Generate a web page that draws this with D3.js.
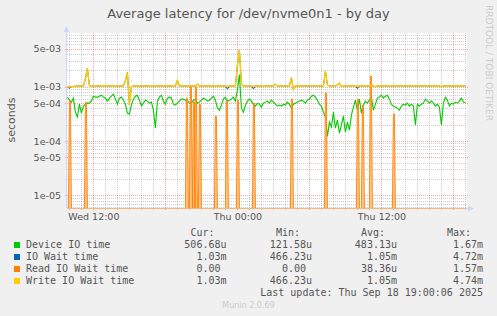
<!DOCTYPE html>
<html>
<head>
<meta charset="utf-8">
<script src="https://cdn.jsdelivr.net/npm/d3@7"></script>
<style>
  body { margin: 0; background: #f0f0f0; }
  svg { display: block; }
  text { font-family: "DejaVu Sans", sans-serif; fill: #555; }
  .mono { font-family: "DejaVu Sans Mono", monospace; white-space: pre; }
</style>
</head>
<body>
<svg id="chart" width="497" height="316"></svg>
<script>
/* ---------------------------------------------------
   Data (10 minute samples, Wed 09:50 -> Thu 19:00, microseconds)
--------------------------------------------------- */

const deviceIO = [
  642, 565, 520, 615, 340, 276, 477, 326, 439, 477,
  498, 498, 542, 669, 642, 642, 669, 698, 642, 615,
  542, 615, 669, 729, 590, 477, 615, 642, 565, 477,
  326, 313, 458, 590, 669, 698, 565, 439, 498, 565,
  542, 498, 520, 370, 173, 542, 642, 698, 542, 477,
  615, 642, 615, 477, 458, 498, 542, 590, 590, 565,
  542, 498, 498, 565, 590, 498, 520, 565, 615, 590,
  542, 565, 615, 669, 565, 403, 370, 458, 590, 642,
  542, 565, 590, 642, 542, 863, 1670, 403, 340, 458,
  542, 590, 542, 477, 439, 498, 477, 421, 498, 520,
  542, 498, 565, 520, 477, 439, 458, 439, 477, 458,
  520, 477, 403, 477, 498, 520, 542, 565, 542, 498,
  565, 590, 669, 698, 642, 565, 477, 439, 340, 276,
  122, 223, 181, 340, 173, 243, 140, 197, 288, 146,
  223, 159, 300, 421, 565, 370, 590, 326, 458, 542,
  498, 565, 642, 370, 477, 615, 642, 698, 615, 669,
  698, 590, 477, 439, 421, 403, 370, 439, 477, 458,
  498, 439, 477, 439, 197, 477, 439, 477, 498, 590,
  542, 498, 542, 498, 439, 477, 421, 197, 498, 642,
  565, 439, 498, 477, 520, 498, 542, 615, 520, 507
];

const ioWait = [
  990, 930, 1000, 1010, 1020, 1030, 1030, 1030, 1030, 1400,
  2200, 1050, 1030, 1030, 1020, 1030, 1030, 1030, 1040, 1030,
  1030, 1030, 1030, 1030, 1020, 1030, 1030, 1030, 1030, 1300,
  1820, 466, 1000, 1030, 1030, 1030, 1030, 1030, 1030, 1030,
  1030, 1030, 1020, 1030, 1030, 1030, 1030, 1030, 1030, 1030,
  1030, 1030, 1030, 1030, 1030, 1320, 1030, 1030, 1030, 1030,
  1030, 1030, 1030, 1030, 1030, 1120, 1030, 1030, 1030, 1030,
  1030, 1030, 1030, 1020, 1030, 1030, 1030, 1030, 1030, 1030,
  900, 1030, 1030, 1030, 1030, 2500, 4720, 1150, 1030, 1030,
  1030, 1030, 1030, 910, 1030, 1030, 1030, 1030, 1020, 1030,
  1030, 1030, 1030, 1030, 1100, 1030, 1030, 1030, 1030, 1030,
  1030, 1030, 1470, 880, 1030, 1030, 1030, 1030, 1030, 1030,
  1030, 1030, 1030, 1030, 1030, 1030, 1030, 1030, 1030, 1930,
  1080, 1030, 1030, 1030, 1030, 1080, 1170, 1000, 1030, 1030,
  1030, 1030, 1030, 1030, 1030, 920, 1030, 1030, 1030, 1030,
  1030, 1030, 1030, 1030, 1000, 1030, 1030, 1030, 1030, 1030,
  1030, 1030, 1030, 1030, 1030, 1030, 1030, 1030, 1030, 1030,
  1030, 1030, 1030, 1030, 1030, 1030, 1030, 1030, 1030, 1030,
  1030, 1030, 1030, 1030, 1030, 1030, 1030, 1000, 1030, 1030,
  1030, 1030, 1030, 1030, 1030, 1030, 1030, 1030, 1030, 1030
];

const writeWait = [
  990, 1000, 1000, 1010, 1020, 1030, 1030, 1030, 1030, 1400,
  2200, 1050, 1030, 1030, 1020, 1030, 1030, 1030, 1040, 1030,
  1030, 1030, 1030, 1030, 1020, 1030, 1030, 1030, 1030, 1300,
  1820, 466, 1000, 1030, 1030, 1030, 1030, 1030, 1030, 1030,
  1030, 1030, 1020, 1030, 1030, 1030, 1030, 1030, 1030, 1030,
  1030, 1030, 1030, 1030, 1030, 1320, 1030, 1030, 1030, 1030,
  1030, 1030, 1030, 1030, 1030, 1120, 1030, 1030, 1030, 1030,
  1030, 1030, 1030, 1020, 1030, 1030, 1030, 1030, 1030, 1030,
  1030, 1030, 1030, 1030, 1030, 2500, 4740, 1150, 1030, 1030,
  1030, 1030, 1030, 1030, 1030, 1030, 1030, 1030, 1020, 1030,
  1030, 1030, 1030, 1030, 1100, 1030, 1030, 1030, 1030, 1030,
  1030, 1030, 1470, 880, 1030, 1030, 1030, 1030, 1030, 1030,
  1030, 1030, 1030, 1030, 1030, 1030, 1030, 1030, 1030, 1930,
  1080, 1030, 1030, 1030, 1030, 1080, 1170, 1000, 1030, 1030,
  1030, 1030, 1030, 1030, 1030, 1030, 1030, 1030, 1030, 1030,
  1030, 1030, 1030, 1030, 1000, 1030, 1030, 1030, 1030, 1030,
  1030, 1030, 1030, 1030, 1030, 1030, 1030, 1030, 1030, 1030,
  1030, 1030, 1030, 1030, 1030, 1030, 1030, 1030, 1030, 1030,
  1030, 1030, 1030, 1030, 1030, 1030, 1030, 1000, 1030, 1030,
  1030, 1030, 1030, 1030, 1030, 1030, 1030, 1030, 1030, 1030
];

// read wait is 0 except for short spikes (one 5 minute sample each)
const readTimes = [
  "2025-09-17 10:00", "2025-09-17 11:20", "2025-09-17 19:45", "2025-09-17 20:05",
  "2025-09-17 20:20", "2025-09-17 20:30", "2025-09-17 20:50", "2025-09-17 22:10",
  "2025-09-17 23:05", "2025-09-18 00:00", "2025-09-18 01:20", "2025-09-18 04:30",
  "2025-09-18 07:20", "2025-09-18 10:00", "2025-09-18 10:25", "2025-09-18 11:05",
  "2025-09-18 13:00"
];
const readValues = [565, 520, 615, 1000, 525, 1000, 477, 288, 542, 565, 500, 590, 770, 590, 458, 1570, 313];

const yTicks = [5e-3, 1e-3, 5e-4, 1e-4, 5e-5, 1e-5];
const yTickLabels = ["5e-03", "1e-03", "5e-04", "1e-04", "5e-05", "1e-05"];

const legendLabels = ["Device IO time", "IO Wait time", "Read IO Wait time", "Write IO Wait time"];
const curValues = ["506.68u", "1.03m", "0.00 ", "1.03m"];
const minValues = ["121.58u", "466.23u", "0.00 ", "466.23u"];
const avgValues = ["483.13u", "1.05m", "38.36u", "1.05m"];
const maxValues = ["1.67m", "4.72m", "1.57m", "4.74m"];

const colours = ["#00CC00", "#0066B3", "#FF8000", "#FFCC00"];

/* ---------------------------------------------------
   Setup
--------------------------------------------------- */

const svg = d3.select("#chart");
const parse = d3.timeParse("%Y-%m-%d %H:%M");
const start = parse("2025-09-17 09:48");
const end = parse("2025-09-18 19:08");
const firstSample = parse("2025-09-17 09:50");

const plot = {left: 67, right: 467, top: 33, bottom: 208};

const x = d3.scaleTime().domain([start, end]).range([plot.left, plot.right]);
const y = d3.scaleLog().domain([5.84e-6, 9.75e-3]).range([plot.bottom, plot.top]).clamp(true);

const yus = v => v > 0 ? y(v * 1e-6) : plot.bottom;
const sampleTime = i => d3.timeMinute.offset(firstSample, i * 10);

svg.append("rect").attr("width", 497).attr("height", 316).attr("fill", "#F0F0F0");
svg.append("rect")
  .attr("x", plot.left).attr("y", plot.top)
  .attr("width", plot.right - plot.left).attr("height", plot.bottom - plot.top)
  .attr("fill", "#fff");

/* ---------------------------------------------------
   Grid
--------------------------------------------------- */

const grid = svg.append("g").attr("shape-rendering", "crispEdges").attr("stroke-dasharray", "1,1");

const yGrid = [];
d3.range(-6, -1).forEach(e => {
  d3.range(1, 10).forEach(k => {
    const v = k * Math.pow(10, e);
    if (v >= y.domain()[0] && v <= y.domain()[1]) yGrid.push({v, major: k === 1 || k === 5});
  });
});

const hours = d3.timeHour.range(d3.timeHour.ceil(start), end)
  .map(t => ({t, major: t.getHours() % 6 === 0}));

grid.selectAll(".hmin")
  .data(yGrid.filter(d => !d.major))
  .join("line")
  .attr("x1", plot.left).attr("x2", plot.right)
  .attr("y1", d => Math.round(y(d.v)) + 0.5).attr("y2", d => Math.round(y(d.v)) + 0.5)
  .attr("stroke", "rgba(128,128,128,0.38)");

grid.selectAll(".vmin")
  .data(hours.filter(d => !d.major))
  .join("line")
  .attr("x1", d => Math.round(x(d.t)) + 0.5).attr("x2", d => Math.round(x(d.t)) + 0.5)
  .attr("y1", plot.top).attr("y2", plot.bottom + 2)
  .attr("stroke", "rgba(128,128,128,0.38)");

grid.selectAll(".hmaj")
  .data(yGrid.filter(d => d.major))
  .join("line")
  .attr("x1", plot.left - 2).attr("x2", plot.right + 2)
  .attr("y1", d => Math.round(y(d.v)) + 0.5).attr("y2", d => Math.round(y(d.v)) + 0.5)
  .attr("stroke", "rgba(255,0,0,0.35)");

grid.selectAll(".vmaj")
  .data(hours.filter(d => d.major))
  .join("line")
  .attr("x1", d => Math.round(x(d.t)) + 0.5).attr("x2", d => Math.round(x(d.t)) + 0.5)
  .attr("y1", plot.top).attr("y2", plot.bottom + 3)
  .attr("stroke", "rgba(255,0,0,0.35)");

/* ---------------------------------------------------
   Axes
--------------------------------------------------- */

const axisCol = "#CFD6F8";

svg.append("line")
  .attr("x1", plot.left - 0.5).attr("x2", plot.left - 0.5)
  .attr("y1", plot.bottom).attr("y2", plot.top - 4)
  .attr("stroke", axisCol);
svg.append("line")
  .attr("x1", plot.left).attr("x2", plot.right + 3)
  .attr("y1", plot.bottom + 0.5).attr("y2", plot.bottom + 0.5)
  .attr("stroke", axisCol);
svg.append("path")
  .attr("d", `M${plot.left - 3.5},${plot.top - 1}L${plot.left - 0.5},${plot.top - 7}L${plot.left + 2.5},${plot.top - 1}Z`)
  .attr("fill", axisCol);
svg.append("path")
  .attr("d", `M${plot.right + 1},${plot.bottom - 2.5}L${plot.right + 7},${plot.bottom + 0.5}L${plot.right + 1},${plot.bottom + 3.5}Z`)
  .attr("fill", axisCol);

const yAxis = svg.append("g")
  .attr("transform", `translate(${plot.left},0)`)
  .call(d3.axisLeft(y).tickValues(yTicks).tickFormat((d, i) => yTickLabels[i]).tickSize(0).tickPadding(6));
yAxis.select(".domain").remove();
yAxis.selectAll("text").attr("font-size", 9.5).attr("font-family", "DejaVu Sans").style("fill", "#555");

const xAxis = svg.append("g")
  .attr("transform", `translate(0,${plot.bottom})`)
  .call(d3.axisBottom(x).ticks(d3.timeHour.every(12)).tickFormat(d3.timeFormat("%a %H:%M")).tickSize(0).tickPadding(5));
xAxis.select(".domain").remove();
xAxis.selectAll("text").attr("font-size", 9.5).attr("font-family", "DejaVu Sans").style("fill", "#555");

/* ---------------------------------------------------
   Series
--------------------------------------------------- */

svg.append("clipPath").attr("id", "clip")
  .append("rect")
  .attr("x", plot.left).attr("y", plot.top - 1)
  .attr("width", plot.right - plot.left).attr("height", plot.bottom - plot.top + 2);

const data = svg.append("g").attr("clip-path", "url(#clip)");

const line = d3.line()
  .x((d, i) => x(sampleTime(i)))
  .y(d => yus(d));

data.append("path").datum(deviceIO)
  .attr("d", line).attr("fill", "none").attr("stroke", colours[0]).attr("stroke-width", 1.1);

data.append("path").datum(ioWait)
  .attr("d", line).attr("fill", "none").attr("stroke", colours[1]).attr("stroke-width", 1);

// read wait: zero baseline along the bottom and narrow spikes
data.append("line")
  .attr("x1", x(firstSample)).attr("x2", x(sampleTime(199)))
  .attr("y1", plot.bottom + 0.5).attr("y2", plot.bottom + 0.5)
  .attr("stroke", "#F7B57A");

const spikes = readTimes.map((t, i) => {
  const tt = parse(t);
  return [
    {t: d3.timeMinute.offset(tt, -5), v: 0},
    {t: tt, v: readValues[i]},
    {t: d3.timeMinute.offset(tt, 5), v: readValues[i]},
    {t: d3.timeMinute.offset(tt, 10), v: 0}
  ];
});

data.selectAll(".spike-fill")
  .data(spikes)
  .join("path")
  .attr("d", d3.area().x(d => x(d.t)).y0(plot.bottom).y1(d => yus(d.v)))
  .attr("fill", "#FFC68C");

data.selectAll(".spike-line")
  .data(spikes)
  .join("path")
  .attr("d", d3.line().x(d => x(d.t)).y(d => yus(d.v)))
  .attr("fill", "none").attr("stroke", colours[2]).attr("stroke-width", 0.9);

// write wait sits on top of io wait, slightly wider so the blue only shows at dips
data.append("path").datum(writeWait)
  .attr("d", line).attr("fill", "none").attr("stroke", colours[3]).attr("stroke-width", 1.4);

/* ---------------------------------------------------
   Text
--------------------------------------------------- */

svg.append("text")
  .attr("x", 248.5).attr("y", 17.5)
  .attr("text-anchor", "middle").attr("font-size", 13)
  .text("Average latency for /dev/nvme0n1 - by day");

svg.append("text")
  .attr("transform", "translate(15,120) rotate(-90)")
  .attr("text-anchor", "middle").attr("font-size", 11)
  .text("seconds");

svg.append("text")
  .attr("transform", "translate(486,5) rotate(90)")
  .attr("font-size", 9).style("fill", "#ccc")
  .text("RRDTOOL / TOBI OETIKER");

/* ---------------------------------------------------
   Legend
--------------------------------------------------- */

const cols = [226.5, 312, 397, 483];
const headers = ["Cur:  ", "Min:  ", "Avg:  ", "Max:  "];
const rowY = 248, rowH = 12;

svg.selectAll(".hdr")
  .data(headers)
  .join("text")
  .attr("class", "mono")
  .attr("x", (d, i) => cols[i]).attr("y", rowY - rowH)
  .attr("text-anchor", "end").attr("font-size", 10)
  .text(d => d);

const rows = svg.selectAll(".row")
  .data(legendLabels)
  .join("g")
  .attr("transform", (d, i) => `translate(0,${rowY + i * rowH})`);

rows.append("rect")
  .attr("x", 14).attr("y", -6).attr("width", 6).attr("height", 6)
  .attr("fill", (d, i) => colours[i]);

rows.append("text")
  .attr("class", "mono").attr("x", 26).attr("font-size", 10)
  .text(d => d);

[curValues, minValues, avgValues, maxValues].forEach((vals, c) => {
  rows.append("text")
    .attr("class", "mono")
    .attr("x", cols[c]).attr("text-anchor", "end").attr("font-size", 10)
    .text((d, i) => vals[i]);
});

svg.append("text")
  .attr("class", "mono")
  .attr("x", 483).attr("y", rowY + 4 * rowH)
  .attr("text-anchor", "end").attr("font-size", 10)
  .text("Last update: Thu Sep 18 19:00:06 2025");

svg.append("text")
  .attr("x", 248.5).attr("y", 308)
  .attr("text-anchor", "middle").attr("font-size", 8)
  .style("fill", "#ccc")
  .text("Munin 2.0.69");
</script>
</body>
</html>
